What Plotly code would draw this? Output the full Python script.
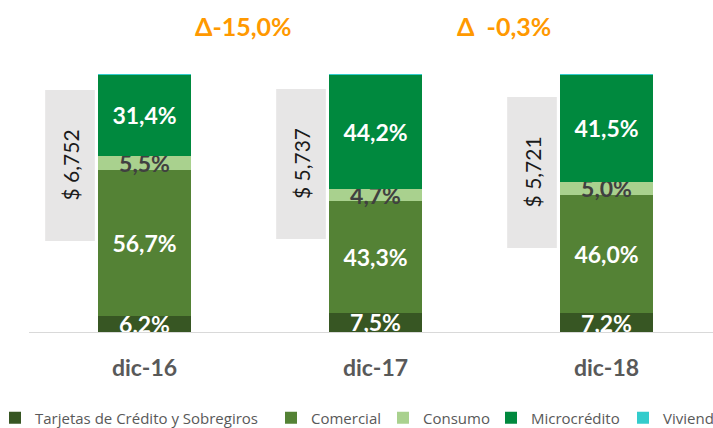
import plotly.graph_objects as go

# ---- data ----
categories = ["dic-16", "dic-17", "dic-18"]
tarjetas = [6.2, 7.5, 7.2]
comercial = [56.7, 43.3, 46.0]
consumo = [5.5, 4.7, 5.0]
microcredito = [31.4, 44.2, 41.5]
vivienda = [0.2, 0.3, 0.3]
totals = ["$ 6,752", "$ 5,737", "$ 5,721"]
deltas = ["Δ-15,0%", "Δ  -0,3%"]
series_names = ["Tarjetas de Crédito y Sobregiros", "Comercial", "Consumo", "Microcrédito", "Vivienda"]

# ---- styles ----
colors = ["#375623", "#548235", "#A9D18E", "#00893E", "#33CCCC"]
text_colors = ["white", "white", "#404040", "white", "white"]
FONT = "Lato"
W, H = 713, 428
box_x = (-0.43, -0.215)
box_y = [(35.3, 93.8), (36.0, 94.2), (32.6, 91.1)]
delta_x = [0.43, 1.558]
legend_x_px = [0, 271, 383, 491, 623]
legend_indent = [-5, 0, 0, 0, 0]

fig = go.Figure()
all_series = [tarjetas, comercial, consumo, microcredito, vivienda]
for k, (name, vals) in enumerate(zip(series_names, all_series)):
    if name == "Vivienda":
        txt = ["" for _ in vals]
    else:
        txt = [f"{v:.1f}%".replace(".", ",") for v in vals]
    fig.add_trace(go.Bar(
        x=categories, y=vals, name=name,
        marker=dict(color=colors[k], line=dict(width=0)),
        width=0.4,
        text=txt, textposition="inside", insidetextanchor="middle",
        textangle=0,
        textfont=dict(family=FONT, size=23, color=text_colors[k], weight="bold"),
        legend="legend" if k == 0 else f"legend{k+1}",
        hoverinfo="skip",
    ))

shapes = []
annotations = []
for i, t in enumerate(totals):
    y0, y1 = box_y[i]
    shapes.append(dict(type="rect", xref="x", yref="y",
                       x0=i + box_x[0], x1=i + box_x[1], y0=y0, y1=y1,
                       fillcolor="#E7E6E6", line=dict(width=0), layer="below"))
    annotations.append(dict(x=i + (box_x[0] + box_x[1]) / 2, y=(y0 + y1) / 2,
                            xref="x", yref="y", text=t, showarrow=False,
                            textangle=-90, xanchor="center", yanchor="middle",
                            font=dict(family=FONT, size=21, color="#1a1a1a")))
for j, d in enumerate(deltas):
    annotations.append(dict(x=delta_x[j], y=1.186, xref="x", yref="paper",
                            text=d, showarrow=False, xanchor="center", yanchor="middle",
                            font=dict(family=FONT, size=25, color="#FF9900", weight="bold")))

layout_legends = {}
for k in range(len(series_names)):
    key = "legend" if k == 0 else f"legend{k+1}"
    layout_legends[key] = dict(
        orientation="h", xref="container", yref="container",
        x=legend_x_px[k] / W, y=1 - 418 / H, xanchor="left", yanchor="middle",
        indentation=legend_indent[k],
        font=dict(family="Open Sans", size=15, color="#595959"),
        bgcolor="rgba(0,0,0,0)", borderwidth=0,
    )

fig.update_layout(
    width=W, height=H,
    margin=dict(l=29, r=0, t=74, b=96),
    barmode="stack",
    plot_bgcolor="white", paper_bgcolor="white",
    showlegend=True,
    hovermode=False,
    uniformtext=dict(minsize=23, mode="show"),
    xaxis=dict(range=[-0.5, -0.5 + 684 / 231], showline=True, linecolor="#D9D9D9",
               linewidth=1, showgrid=False, zeroline=False, ticks="",
               tickfont=dict(family=FONT, size=23, color="#595959", weight="bold"),
               ticklabelstandoff=15),
    yaxis=dict(range=[0, 100], showticklabels=False, showgrid=False, zeroline=False,
               showline=False),
    shapes=shapes, annotations=annotations,
    **layout_legends,
)

fig.write_html("out.html", config={"displayModeBar": False},
               post_script="document.body.style.margin='0px';")
